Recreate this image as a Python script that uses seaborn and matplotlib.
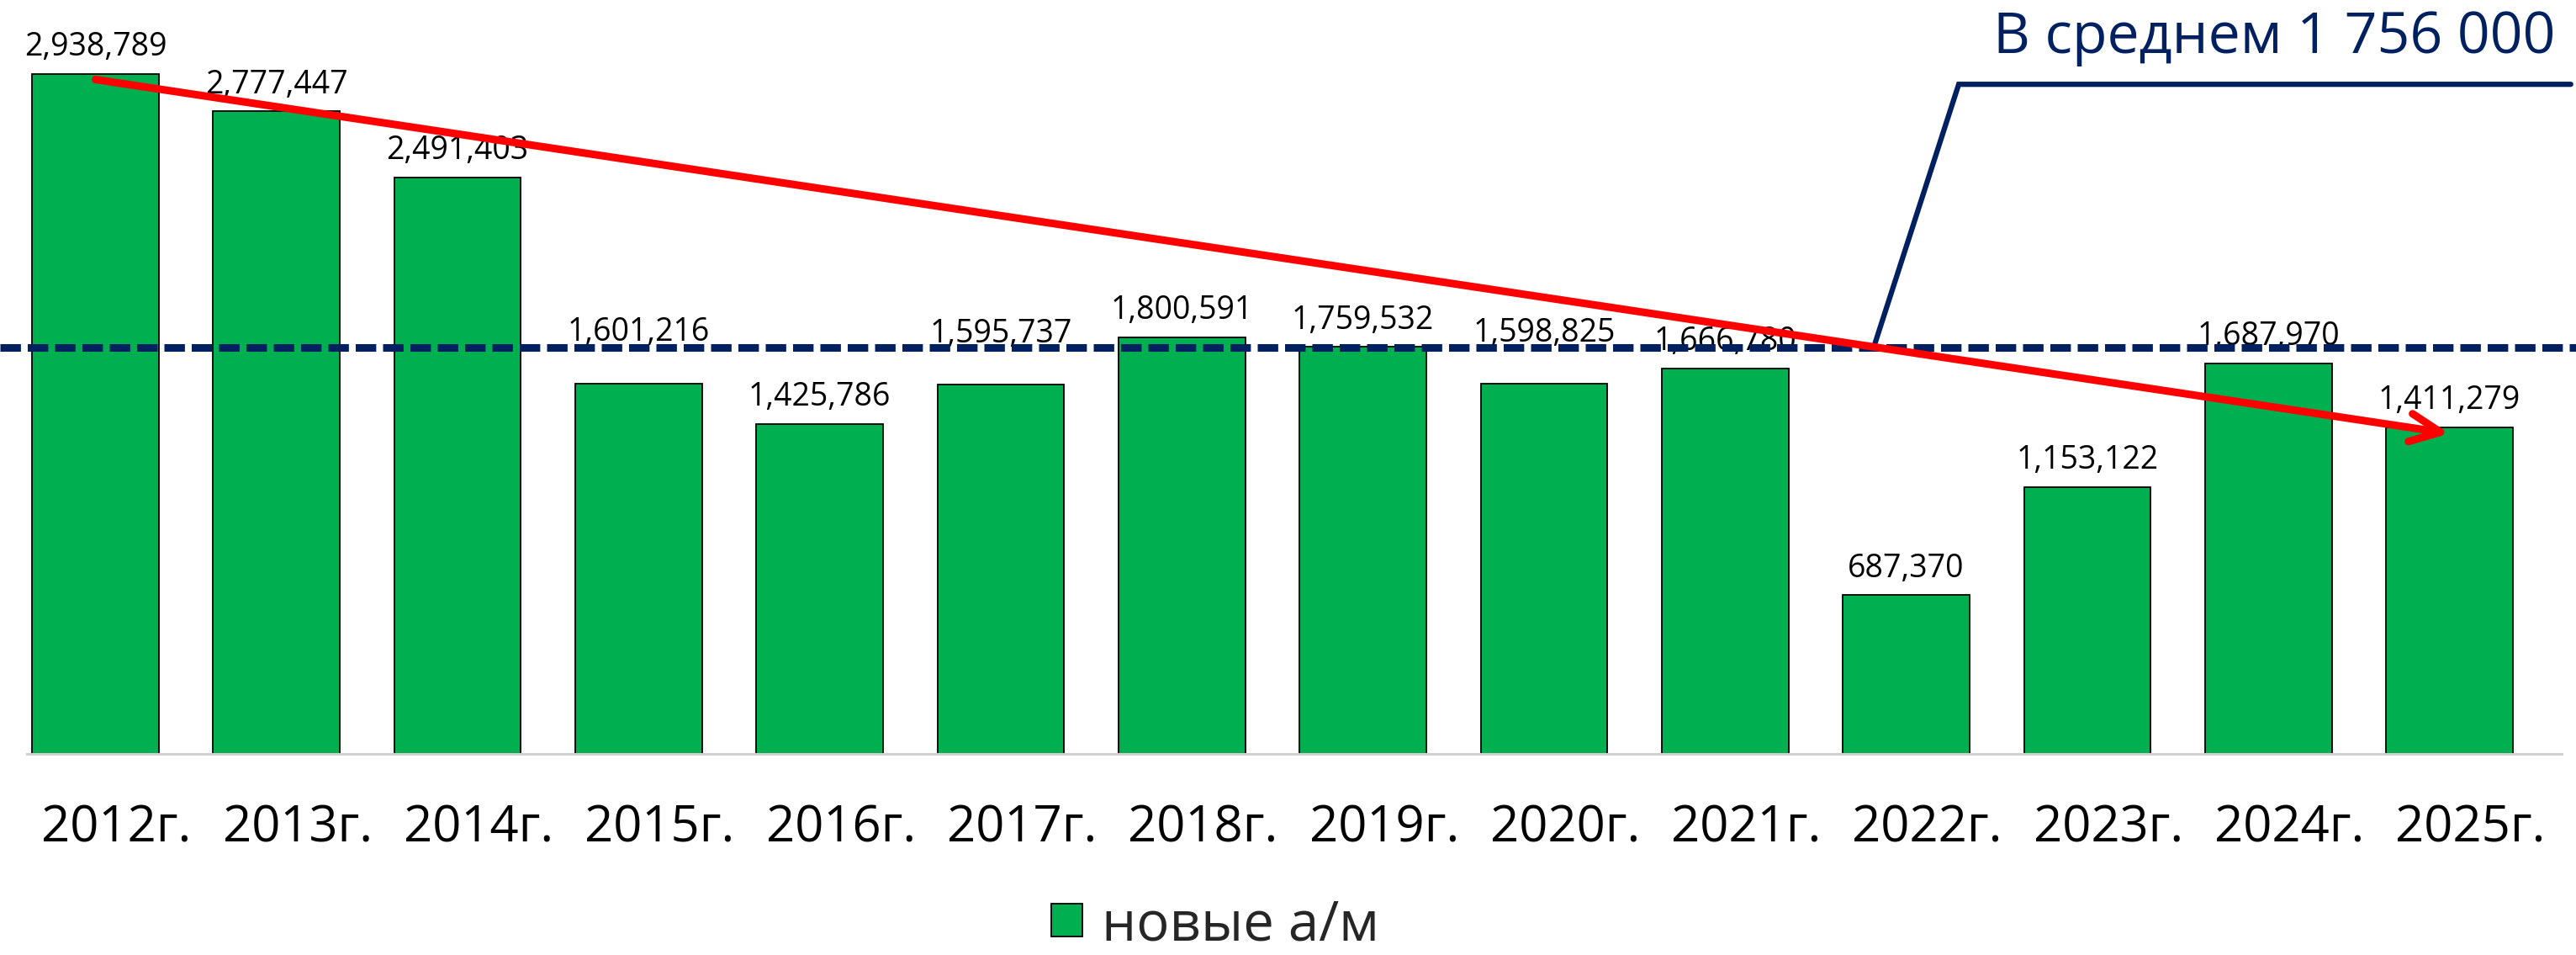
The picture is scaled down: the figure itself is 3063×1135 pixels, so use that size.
import matplotlib
matplotlib.use('Agg')
import matplotlib.pyplot as plt
import matplotlib.transforms as mtransforms
import seaborn as sns
import pandas as pd

# data
years = ['2012г.', '2013г.', '2014г.', '2015г.', '2016г.', '2017г.', '2018г.',
         '2019г.', '2020г.', '2021г.', '2022г.', '2023г.', '2024г.', '2025г.']
new_cars = [2938789, 2777447, 2491403, 1601216, 1425786, 1595737, 1800591,
            1759532, 1598825, 1666780, 687370, 1153122, 1687970, 1411279]
average = 1756000
avg_label = 'В среднем 1 756 000'
series_name = 'новые а/м'
# red trend arrow: from first year to last year
trend_start = 2915000
trend_end = 1385000
# labels lifted above the average line in the original
lifted = ['2015г.', '2017г.', '2020г.']

GREEN = '#00B050'
NAVY = '#002060'

sns.set_theme(style='white')
plt.rcParams['font.family'] = ['Open Sans', 'DejaVu Sans']

df = pd.DataFrame({'year': years, 'value': new_cars})

fig = plt.figure(figsize=(30.63, 11.35), dpi=100)
ax = fig.add_axes([32 / 3063, 239 / 1135, (3046 - 32) / 3063, 896 / 1135])

sns.barplot(data=df, x='year', y='value', color=GREEN, saturation=1,
            edgecolor='black', linewidth=1.3, width=0.70, label=series_name, ax=ax)

ax.set_xlim(-0.3785, 13.62)
ax.set_ylim(0, 3258800)
ax.set_xlabel('')
ax.set_ylabel('')
ax.set_yticks([])
for s in ['top', 'left', 'right']:
    ax.spines[s].set_visible(False)
ax.spines['bottom'].set_color('#D0D0D0')
ax.spines['bottom'].set_linewidth(2.2)

ax.tick_params(axis='x', length=0, pad=42, labelsize=43, labelcolor='black')
shift = mtransforms.ScaledTranslation(0.25, 0, fig.dpi_scale_trans)
for lbl in ax.get_xticklabels():
    lbl.set_transform(lbl.get_transform() + shift)

anns = ax.bar_label(ax.containers[0], labels=[f'{v:,}' for v in new_cars],
                    padding=9, fontsize=27, color='black')
for yr, ann in zip(years, anns):
    if yr in lifted:
        ann.xyann = (0, 30)

# average line across the whole figure
ax.axhline(average, xmin=-32 / 3014, xmax=3031 / 3014, color=NAVY, lw=6.5,
           dashes=(2.7, 0.9), clip_on=False, zorder=4)

# callout leader to the average label
call_y = average + 313 * 3637.1
ax.plot([9.82, 10.29, 13.67], [average, call_y, call_y], color=NAVY, lw=4.5,
        clip_on=False, zorder=5, solid_joinstyle='miter')
fig.text(3039 / 3063, 1 - 63 / 1135, avg_label, ha='right', va='baseline',
         fontsize=49, color=NAVY)

# trend arrow
ax.annotate('', xy=(len(years) - 1, trend_end), xytext=(0, trend_start),
            arrowprops=dict(arrowstyle='->,head_length=1.3,head_width=0.6',
                            color='#FF0000', lw=6.5, shrinkA=0, shrinkB=0,
                            mutation_scale=20, capstyle='round'),
            zorder=6)

ax.legend().remove()
h, l = ax.get_legend_handles_labels()
fig.legend(h, l, loc='center', bbox_to_anchor=(1445 / 3063, 35 / 1135),
           frameon=False, fontsize=47, handlelength=0.56, handleheight=0.54,
           handletextpad=0.35, borderaxespad=0, borderpad=0)

fig.savefig('out.png', dpi=100)
plt.close(fig)
